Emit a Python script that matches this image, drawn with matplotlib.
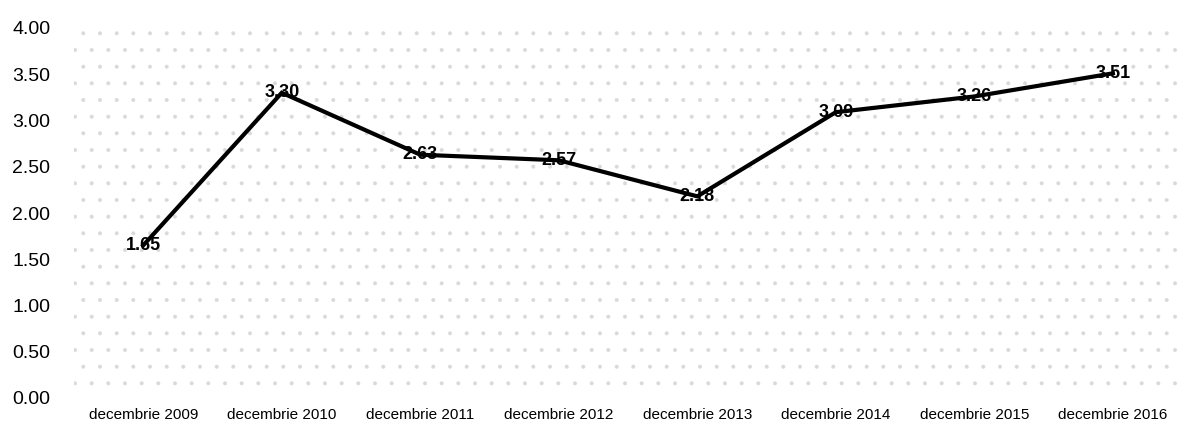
import matplotlib
matplotlib.use("Agg")
import matplotlib.pyplot as plt
from matplotlib import font_manager

categories = ["decembrie 2009", "decembrie 2010", "decembrie 2011", "decembrie 2012",
              "decembrie 2013", "decembrie 2014", "decembrie 2015", "decembrie 2016"]
values = [1.65, 3.30, 2.63, 2.57, 2.18, 3.09, 3.26, 3.51]
yticks = [0.0, 0.5, 1.0, 1.5, 2.0, 2.5, 3.0, 3.5, 4.0]

names = {f.name for f in font_manager.fontManager.ttflist}
family = ["Liberation Sans Narrow", "Liberation Sans", "DejaVu Sans"]
family = [f for f in family if f in names] or ["DejaVu Sans"]
plt.rcParams["font.family"] = family
plt.rcParams["hatch.color"] = "#d9d9d9"
plt.rcParams["hatch.linewidth"] = 0.4

W, H = 1178, 430
fig = plt.figure(figsize=(W / 100, H / 100), dpi=100)
left, right, top, bottom = 74, 1178, 28, 398
ax = fig.add_axes([left / W, (H - bottom) / H, (right - left) / W, (bottom - top) / H])

# stippled plot-area fill
ax.patch.set_facecolor("white")
ax.patch.set_hatch(".")
ax.patch.set_edgecolor("#d9d9d9")
ax.patch.set_linewidth(0)

x = list(range(len(values)))
ax.plot(x, values, color="black", linewidth=3.0, solid_joinstyle="miter", zorder=3)
for xi, v in zip(x, values):
    ax.text(xi, v, f"{v:.2f}", ha="center", va="center", fontsize=13,
            fontweight="bold", color="black", zorder=4)

ax.set_xlim(-0.5, 7.47)
ax.set_ylim(0, 4)
ax.set_yticks(yticks)
ax.set_yticklabels([f"{t:.2f}" for t in yticks], fontsize=14)
ax.set_xticks(x)
ax.set_xticklabels(categories, fontsize=11)
ax.tick_params(axis="y", length=0, pad=17)
ax.tick_params(axis="x", length=0, pad=7)
for s in ax.spines.values():
    s.set_visible(False)

fig.savefig("out.png", dpi=100, facecolor="white")
